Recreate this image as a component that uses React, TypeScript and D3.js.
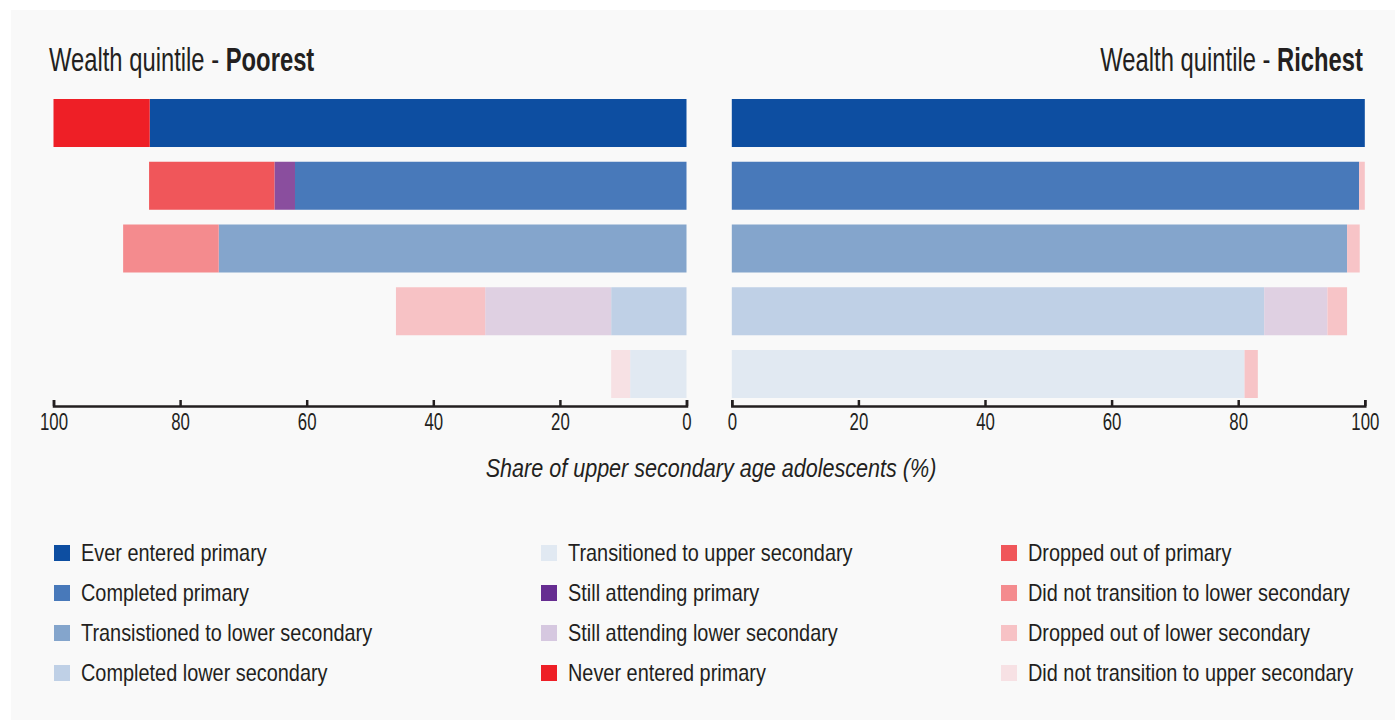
import React, { useEffect, useRef } from "react";
import * as d3 from "d3";

// ---- Data ----
const stages = ["Entry", "Primary", "Lower transition", "Lower secondary", "Upper transition"];

const rowSeries = [
  ["Ever entered primary", "Never entered primary"],
  ["Completed primary", "Still attending primary", "Dropped out of primary"],
  ["Transistioned to lower secondary", "Did not transition to lower secondary"],
  ["Completed lower secondary", "Still attending lower secondary", "Dropped out of lower secondary"],
  ["Transitioned to upper secondary", "Did not transition to upper secondary"],
];

const poorestValues = [
  [84.8, 15.2],
  [61.85, 3.25, 19.8],
  [73.9, 15.1],
  [11.9, 19.9, 14.1],
  [8.9, 3.0],
];

const richestValues = [
  [100, 0],
  [99.1, 0, 0.9],
  [97.2, 2.0],
  [84.1, 10.0, 3.1],
  [81.0, 2.1],
];

const tickValues = [0, 20, 40, 60, 80, 100];

const legendColumns = [
  ["Ever entered primary", "Completed primary", "Transistioned to lower secondary", "Completed lower secondary"],
  ["Transitioned to upper secondary", "Still attending primary", "Still attending lower secondary", "Never entered primary"],
  ["Dropped out of primary", "Did not transition to lower secondary", "Dropped out of lower secondary", "Did not transition to upper secondary"],
];

const legendColors: Record<string, string> = {
  "Ever entered primary": "#0d4ea1",
  "Completed primary": "#4879ba",
  "Transistioned to lower secondary": "#84a5cc",
  "Completed lower secondary": "#bfd0e6",
  "Transitioned to upper secondary": "#e1e9f2",
  "Still attending primary": "#662d91",
  "Still attending lower secondary": "#d6c8e0",
  "Never entered primary": "#ee1f26",
  "Dropped out of primary": "#f0565a",
  "Did not transition to lower secondary": "#f48b8e",
  "Dropped out of lower secondary": "#f7c2c5",
  "Did not transition to upper secondary": "#f7e1e4",
};

const barColors: Record<string, string> = {
  ...legendColors,
  "Still attending primary": "#8a4e9e",
  "Still attending lower secondary": "#dfd0e2",
};

const richestLossColor = "#f7c4c7";
const lossSeries = [
  "Never entered primary",
  "Dropped out of primary",
  "Did not transition to lower secondary",
  "Dropped out of lower secondary",
  "Did not transition to upper secondary",
];

const FONT = "'Liberation Sans', Arial, sans-serif";
const TEXT = "#231f20";

const W = 1395;
const H = 720;

const xLeft = d3.scaleLinear().domain([0, 100]).range([686.5, 53.5]);
const xRight = d3.scaleLinear().domain([0, 100]).range([731.8, 1364.8]);
const y = d3.scaleBand<string>().domain(stages).range([99, 398]).paddingInner(0.235).paddingOuter(0);

function segmentsFor(values: number[][], rich: boolean) {
  const out: { key: string; row: string; x0: number; x1: number; color: string }[] = [];
  values.forEach((vals, i) => {
    const cum = d3.cumsum(vals);
    vals.forEach((v, j) => {
      if (v <= 0) return;
      const name = rowSeries[i][j];
      const color = rich && lossSeries.includes(name) ? richestLossColor : barColors[name];
      out.push({ key: `${i}-${j}`, row: stages[i], x0: cum[j] - v, x1: cum[j], color });
    });
  });
  return out;
}

const Panel = ({ values, x, rich }: { values: number[][]; x: d3.ScaleLinear<number, number>; rich: boolean }) => {
  const segs = segmentsFor(values, rich);
  return (
    <g>
      {segs.map((s) => {
        const a = x(s.x0);
        const b = x(s.x1);
        return (
          <rect
            key={s.key}
            x={Math.min(a, b)}
            y={y(s.row)}
            width={Math.abs(b - a)}
            height={y.bandwidth()}
            fill={s.color}
          />
        );
      })}
    </g>
  );
};

export default function App() {
  const leftAxisRef = useRef<SVGGElement>(null);
  const rightAxisRef = useRef<SVGGElement>(null);

  useEffect(() => {
    const draw = (el: SVGGElement | null, scale: d3.ScaleLinear<number, number>) => {
      if (!el) return;
      const g = d3.select(el);
      g.selectAll("*").remove();
      g.call(
        d3
          .axisBottom(scale)
          .tickValues(tickValues)
          .tickFormat(d3.format("d"))
          .tickSizeInner(-6)
          .tickSizeOuter(-6)
          .tickPadding(7)
      );
      g.attr("color", TEXT).attr("font-family", FONT).attr("font-size", 24);
      g.selectAll("path.domain").attr("stroke-width", 2.5);
      g.selectAll(".tick line").attr("stroke-width", 2.5);
      g.selectAll(".tick text").attr("fill", TEXT).attr("transform", "scale(0.7,1)");
    };
    draw(leftAxisRef.current, xLeft);
    draw(rightAxisRef.current, xRight);
  }, []);

  return (
    <svg
      width={W}
      height={H}
      style={{ position: "absolute", left: 0, top: 0, display: "block" }}
      fontFamily={FONT}
    >
      <rect x={0} y={0} width={W} height={H} fill="#ffffff" />
      <rect x={11} y={10} width={W - 11} height={H - 10} fill="#f9f9f9" />

      <text transform="translate(49,71) scale(0.7,1)" fontSize={34} fill={TEXT}>
        <tspan>{"Wealth quintile - "}</tspan>
        <tspan fontWeight="bold">Poorest</tspan>
      </text>
      <text transform="translate(1363,71) scale(0.7,1)" fontSize={34} fill={TEXT} textAnchor="end">
        <tspan>{"Wealth quintile - "}</tspan>
        <tspan fontWeight="bold">Richest</tspan>
      </text>

      <Panel values={poorestValues} x={xLeft} rich={false} />
      <Panel values={richestValues} x={xRight} rich={true} />

      <g ref={leftAxisRef} transform="translate(0,406)" />
      <g ref={rightAxisRef} transform="translate(0,406)" />

      <text
        transform="translate(711,477) scale(0.83,1)"
        fontSize={26}
        fontStyle="italic"
        textAnchor="middle"
        fill={TEXT}
      >
        Share of upper secondary age adolescents (%)
      </text>

      {legendColumns.map((col, ci) => {
        const colX = [54, 541, 1001][ci];
        return (
          <g key={ci}>
            {col.map((name, ri) => {
              const cy = 553 + ri * 40;
              return (
                <g key={name}>
                  <rect x={colX} y={cy - 8} width={16} height={16} fill={legendColors[name]} />
                  <text
                    transform={`translate(${colX + 27},${cy + 8}) scale(0.865,1)`}
                    fontSize={23}
                    fill={TEXT}
                  >
                    {name}
                  </text>
                </g>
              );
            })}
          </g>
        );
      })}
    </svg>
  );
}
